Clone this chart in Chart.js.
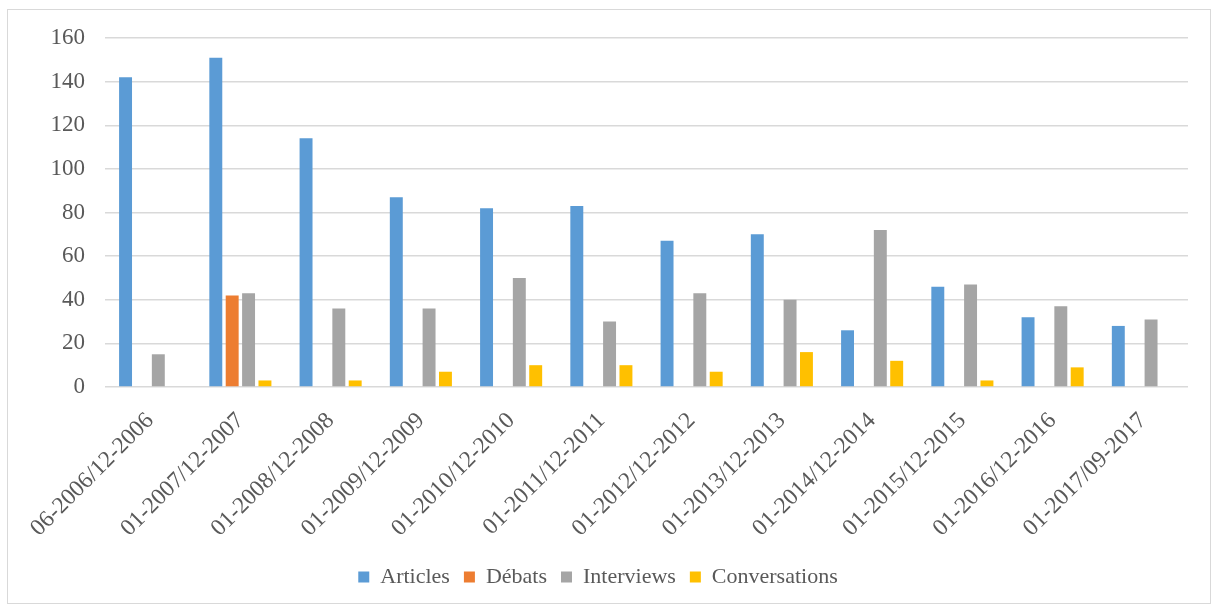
<!DOCTYPE html>
<html>
<head>
<meta charset="utf-8">
<script src="https://cdn.jsdelivr.net/npm/chart.js@4"></script>
<style>
  html, body { margin: 0; padding: 0; background: #fff; }
  #box { position: absolute; left: 7px; top: 9px; width: 1202px; height: 593px; border: 1px solid #d9d9d9; }
  canvas { display: block; }
</style>
</head>
<body>
<div id="box"><canvas id="c" width="1202" height="593"></canvas></div>
<script>
const categories = ["06-2006/12-2006","01-2007/12-2007","01-2008/12-2008","01-2009/12-2009","01-2010/12-2010","01-2011/12-2011","01-2012/12-2012","01-2013/12-2013","01-2014/12-2014","01-2015/12-2015","01-2016/12-2016","01-2017/09-2017"];
const articles = [142,151,114,87,82,83,67,70,26,46,32,28];
const debats = [0,42,0,0,0,0,0,0,0,0,0,0];
const interviews = [15,43,36,36,50,30,43,40,72,47,37,31];
const conversations = [0,3,3,7,10,10,7,16,12,3,9,0];
const yTicks = [0,20,40,60,80,100,120,140,160];

const font = "'Liberation Serif', 'Times New Roman', serif";
const txt = "#595959";
function ds(label, data, color) {
  return { label, data, backgroundColor: color, borderWidth: 0, barPercentage: 0.79, categoryPercentage: 0.726 };
}
new Chart(document.getElementById('c'), {
  type: 'bar',
  data: {
    labels: categories,
    datasets: [
      ds('Articles', articles, '#5b9bd5'),
      ds('Débats', debats, '#ed7d31'),
      ds('Interviews', interviews, '#a5a5a5'),
      ds('Conversations', conversations, '#ffc000')
    ]
  },
  options: {
    responsive: false,
    animation: false,
    layout: { padding: { left: 0, right: 22, top: 28, bottom: 5 } },
    plugins: {
      tooltip: { enabled: false },
      legend: {
        position: 'bottom',
        labels: { font: { family: font, size: 22 }, color: txt, boxWidth: 11, boxHeight: 11, padding: 14 }
      }
    },
    scales: {
      x: {
        grid: { display: false },
        border: { display: false },
        ticks: { font: { family: font, size: 23.5 }, color: txt, minRotation: 45, maxRotation: 45, autoSkip: false, padding: 12 },
        afterFit: (s) => { s.height = 165; }
      },
      y: {
        min: 0, max: 160,
        afterBuildTicks: (s) => { s.ticks = yTicks.map(v => ({ value: v })); },
        grid: { color: '#d9d9d9', lineWidth: 1.5, drawTicks: false },
        border: { display: false },
        ticks: { font: { family: font, size: 23 }, color: txt, padding: 20 },
        afterFit: (s) => { s.width = 97; s.paddingTop = 0; s.paddingBottom = 0; }
      }
    }
  }
});
</script>
</body>
</html>
